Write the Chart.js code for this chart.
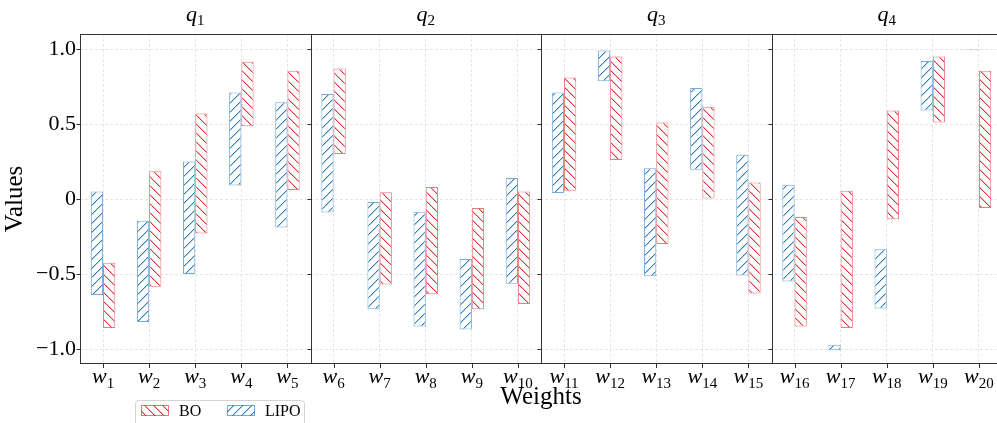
<!DOCTYPE html>
<html>
<head>
<meta charset="utf-8">
<script src="https://cdn.jsdelivr.net/npm/chart.js@4.4.0/dist/chart.umd.min.js"></script>
<style>
html, body { margin: 0; padding: 0; background: #fff; overflow: hidden; }
#wrap { position: relative; width: 997px; height: 423px; overflow: hidden; }
canvas { position: absolute; left: 0; top: 0; }
</style>
</head>
<body>
<div id="wrap"><canvas id="chart" width="1010" height="423"></canvas></div>
<script>
// data
const weightLabels = ['w1','w2','w3','w4','w5','w6','w7','w8','w9','w10',
                      'w11','w12','w13','w14','w15','w16','w17','w18','w19','w20'];
const panelTitles = ['q1','q2','q3','q4'];
const panelSize = 5;

const lipoMin = [-0.64, -0.82, -0.50, 0.09, -0.19, -0.09, -0.735, -0.85, -0.87, -0.565,
                 0.04, 0.785, -0.515, 0.195, -0.51, -0.55, -1.008, -0.73, 0.59, 0.996];
const lipoMax = [0.05, -0.145, 0.25, 0.71, 0.645, 0.70, -0.02, -0.085, -0.40, 0.14,
                 0.71, 0.99, 0.205, 0.74, 0.295, 0.095, -0.972, -0.335, 0.92, 1.0];
const boMin = [-0.86, -0.585, -0.23, 0.485, 0.06, 0.30, -0.57, -0.635, -0.735, -0.70,
               0.055, 0.26, -0.30, 0.0, -0.63, -0.85, -0.86, -0.135, 0.51, -0.06];
const boMax = [-0.425, 0.185, 0.57, 0.915, 0.855, 0.87, 0.045, 0.08, -0.06, 0.05,
               0.81, 0.95, 0.51, 0.615, 0.11, -0.12, 0.055, 0.59, 0.95, 0.855];

const yTickValues = [-1, -0.5, 0, 0.5, 1];
const yTickLabels = ['\u22121.0', '\u22120.5', '0', '0.5', '1.0'];

const FONT = "'Liberation Serif', 'DejaVu Serif', serif";
const RED = [226, 52, 58];
const BLUE = [40, 124, 196];
const rgba = (c, a) => `rgba(${c[0]},${c[1]},${c[2]},${a})`;

const canvas = document.getElementById('chart');
const mainCtx = canvas.getContext('2d');

// hatch fill, pixel diagonals like matplotlib '\\' and '//'
function hatch(col, back){
  const s = 9;
  const c = document.createElement('canvas');
  c.width = s; c.height = s;
  const g = c.getContext('2d');
  g.fillStyle = '#fff';
  g.fillRect(0, 0, s, s);
  for(let i = 0; i < s; i++){
    const py = back ? i : s - 1 - i;
    g.fillStyle = rgba(col, 1);
    g.fillRect(i, py, 1, 1);
    g.fillStyle = rgba(col, 0.35);
    g.fillRect((i + 1) % s, py, 1, 1);
  }
  return mainCtx.createPattern(c, 'repeat');
}

const boFill = hatch(RED, true);
const lipoFill = hatch(BLUE, false);

function drawSub(ctx, base, sub, cx, baseline, size, subSize, shift){
  ctx.font = `italic ${size}px ${FONT}`;
  const wb = ctx.measureText(base).width;
  ctx.font = `${subSize}px ${FONT}`;
  const ws = ctx.measureText(sub).width;
  const x0 = cx - (wb + ws) / 2;
  ctx.textAlign = 'left';
  ctx.textBaseline = 'alphabetic';
  ctx.fillStyle = '#000';
  ctx.font = `italic ${size}px ${FONT}`;
  ctx.fillText(base, x0, baseline);
  ctx.font = `${subSize}px ${FONT}`;
  ctx.fillText(sub, x0 + wb, baseline + shift);
}

const panelPlugin = {
  id: 'panels',
  afterDraw(chart){
    const { ctx, chartArea: a, scales: { x, y } } = chart;
    ctx.save();
    ctx.strokeStyle = '#333';
    ctx.lineWidth = 1;

    // panel borders
    const lefts = [a.left];
    for(let p = 1; p < panelTitles.length; p++){
      const sx = (x.getPixelForValue(p * panelSize - 1) + x.getPixelForValue(p * panelSize)) / 2;
      lefts.push(sx);
    }
    ctx.strokeRect(Math.round(a.left) + 0.5, Math.round(a.top) + 0.5,
                   Math.round(a.width) - 1, Math.round(a.height) - 1);
    ctx.beginPath();
    lefts.slice(1).forEach(sx => {
      const px = Math.round(sx) + 0.5;
      ctx.moveTo(px, a.top); ctx.lineTo(px, a.bottom);
    });
    // y tick marks on every panel
    lefts.forEach(lx => {
      const px = Math.round(lx) + 0.5;
      yTickValues.forEach(v => {
        const py = Math.round(y.getPixelForValue(v)) + 0.5;
        ctx.moveTo(px - 4, py); ctx.lineTo(px, py);
      });
    });
    // x tick marks
    weightLabels.forEach((_, i) => {
      const px = Math.round(x.getPixelForValue(i)) + 0.5;
      ctx.moveTo(px, a.bottom); ctx.lineTo(px, a.bottom + 4);
    });
    ctx.stroke();

    // x labels w_n
    weightLabels.forEach((lab, i) => {
      drawSub(ctx, lab[0], lab.slice(1), x.getPixelForValue(i), 383, 22, 15, 5);
    });

    // panel titles q_n
    panelTitles.forEach((t, p) => {
      const cx = (x.getPixelForValue(p * panelSize) + x.getPixelForValue(p * panelSize + panelSize - 1)) / 2;
      drawSub(ctx, t[0], t.slice(1), cx, 21, 22, 15, 4);
    });

    // legend (BO first, then LIPO)
    ctx.fillStyle = 'rgba(255,255,255,0.85)';
    ctx.strokeStyle = '#d3d3d3';
    ctx.beginPath();
    ctx.roundRect(135.5, 400.5, 169, 32, 3);
    ctx.fill();
    ctx.stroke();
    const items = [
      { ds: chart.data.datasets[1], x: 141 },
      { ds: chart.data.datasets[0], x: 227 }
    ];
    items.forEach(it => {
      ctx.fillStyle = it.ds.backgroundColor;
      ctx.fillRect(it.x, 405, 28, 11);
      ctx.strokeStyle = it.ds.borderColor;
      ctx.strokeRect(it.x + 0.5, 405.5, 27, 10);
      ctx.fillStyle = '#000';
      ctx.font = `16px ${FONT}`;
      ctx.textAlign = 'left';
      ctx.textBaseline = 'alphabetic';
      ctx.fillText(it.ds.label, it.x + 38, 416);
    });
    ctx.restore();
  }
};

new Chart(canvas, {
  type: 'bar',
  data: {
    labels: weightLabels,
    datasets: [
      {
        label: 'LIPO',
        data: lipoMin.map((v, i) => [v, lipoMax[i]]),
        backgroundColor: lipoFill,
        borderColor: rgba(BLUE, 0.65),
        borderWidth: 1,
        borderSkipped: false,
        categoryPercentage: 0.53,
        barPercentage: 1
      },
      {
        label: 'BO',
        data: boMin.map((v, i) => [v, boMax[i]]),
        backgroundColor: boFill,
        borderColor: rgba(RED, 0.65),
        borderWidth: 1,
        borderSkipped: false,
        categoryPercentage: 0.53,
        barPercentage: 1
      }
    ]
  },
  options: {
    responsive: false,
    animation: false,
    layout: { padding: { top: 34, right: 8, left: 0, bottom: 0 } },
    plugins: { legend: { display: false }, tooltip: { enabled: false } },
    scales: {
      x: {
        grid: { offset: false, color: '#e0e0e0', lineWidth: 0.8, drawTicks: false },
        border: { display: false, dash: [3, 2] },
        ticks: { display: false },
        title: {
          display: true, text: 'Weights', color: '#000',
          font: { family: FONT, size: 25, lineHeight: 1 },
          padding: { top: 0, bottom: 13 }
        },
        afterFit: s => { s.height = 59; }
      },
      y: {
        min: -1.1,
        max: 1.1,
        afterBuildTicks: s => { s.ticks = yTickValues.map(v => ({ value: v })); },
        grid: { color: '#e0e0e0', lineWidth: 0.8, drawTicks: false },
        border: { display: false, dash: [3, 2] },
        ticks: {
          color: '#000', padding: 4,
          font: { family: FONT, size: 22 },
          callback: v => yTickLabels[yTickValues.indexOf(v)]
        },
        title: {
          display: true, text: 'Values', color: '#000',
          font: { family: FONT, size: 25, lineHeight: 1 },
          padding: { top: 3, bottom: 0 }
        },
        afterFit: s => { s.width = 80; }
      }
    }
  },
  plugins: [panelPlugin]
});
</script>
</body>
</html>
